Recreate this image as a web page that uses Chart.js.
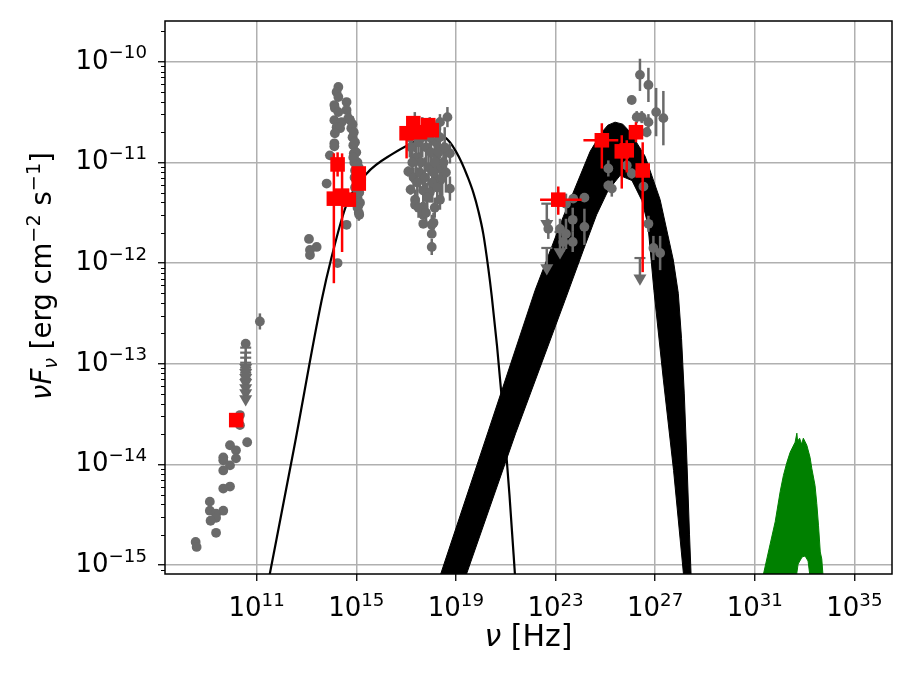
<!DOCTYPE html>
<html>
<head>
<meta charset="utf-8">
<script src="https://cdn.jsdelivr.net/npm/chart.js@4.4.0/dist/chart.umd.min.js"></script>
<style>
  html, body { margin: 0; padding: 0; background: #fff; }
  canvas { display: block; }
</style>
</head>
<body>
<canvas id="sed" width="913" height="685"></canvas>
<script>
// all values below are log10: frequency [Hz] and nuFnu [erg cm^-2 s^-1]
const xTickExp = [11, 15, 19, 23, 27, 31, 35];
const yTickExp = [-15, -14, -13, -12, -11, -10];

// grey archival points (err = symmetric error, decades)
const radioNu   = [11.13, 10.56, 10.33, 10.33, 10.62, 9.93, 10.17, 10.17, 9.66, 9.66, 9.93, 9.66, 9.93, 9.66, 9.12, 9.12, 9.66, 9.37, 9.37, 9.15, 9.37, 8.55, 8.59];
const radioFlux = [-12.58, -12.80, -13.51, -13.61, -13.78, -13.81, -13.86, -13.94, -13.93, -13.96, -14.01, -14.06, -14.22, -14.24, -14.37, -14.46, -14.46, -14.49, -14.53, -14.56, -14.68, -14.77, -14.82];
const radioErr  = [0.08, 0, 0, 0, 0, 0, 0, 0, 0, 0, 0, 0, 0, 0, 0, 0, 0, 0, 0, 0, 0, 0, 0];

const opticalNu   = [14.28, 14.21, 14.28, 14.12, 14.61, 14.14, 14.61, 14.28, 14.12, 14.41, 14.68, 14.21, 14.35, 14.14, 14.12, 14.12, 13.94, 13.81, 14.61, 13.10, 13.41, 13.14, 13.14, 14.25,
                     14.75, 14.80, 14.85, 14.88, 14.90, 14.92, 14.95, 15.00, 15.02, 15.05, 15.08, 15.10, 15.12, 15.10, 14.98, 14.93,
                     14.85, 14.90, 14.95, 15.00, 15.05, 15.10, 15.12, 15.15, 15.05, 15.12, 14.95, 14.88];
const opticalFlux = [-10.25, -10.30, -10.35, -10.43, -10.40, -10.46, -10.48, -10.50, -10.58, -10.60, -10.56, -10.65, -10.66, -10.71, -10.81, -10.84, -10.93, -11.21, -11.62, -11.76, -11.84, -11.87, -11.92, -12.00,
                     -10.58, -10.66, -10.75, -10.83, -10.91, -11.00, -11.08, -11.17, -11.26, -11.35, -11.43, -11.50, -11.24, -11.05, -11.38, -11.15,
                     -10.62, -10.70, -10.80, -10.90, -11.00, -11.10, -11.30, -11.40, -11.45, -11.52, -11.25, -10.95];
const opticalErr  = [0, 0, 0, 0, 0, 0, 0, 0, 0, 0, 0, 0, 0, 0, 0, 0, 0, 0, 0, 0, 0, 0, 0, 0,
                     0.08, 0.08, 0.08, 0.08, 0.08, 0.08, 0.08, 0.08, 0.08, 0.08, 0.08, 0.08, 0.08, 0.08, 0.08, 0.08,
                     0.08, 0.10, 0.10, 0.10, 0.10, 0.10, 0.10, 0.10, 0.08, 0.05, 0.10, 0.10];

const xrayNu   = [18.66, 18.36, 17.09, 17.18, 17.36, 17.36, 17.69, 17.69, 17.69, 17.69, 18.03, 18.03, 18.03, 18.36, 18.36, 18.36, 18.76, 18.76, 18.23,
                  17.20, 17.40, 17.50, 17.60, 17.80, 17.90, 18.00, 18.10, 18.20, 18.30, 18.50, 17.30, 17.95, 18.15,
                  17.15, 17.25, 17.35, 17.45, 17.55, 17.65, 17.75, 17.85, 17.95, 18.05, 18.15, 18.25, 18.35, 18.45, 18.55, 18.60, 17.50, 17.80, 18.10];
const xrayFlux = [-10.55, -10.60, -11.09, -11.27, -11.37, -11.42, -11.28, -11.44, -11.52, -11.61, -11.62, -11.71, -11.84, -11.06, -11.18, -11.37, -11.26, -10.91, -10.93,
                  -10.85, -10.95, -10.80, -11.00, -10.85, -11.05, -10.90, -11.10, -10.80, -10.90, -11.00, -11.15, -11.30, -11.45,
                  -10.75, -11.00, -10.70, -11.20, -11.10, -10.75, -11.15, -11.35, -10.75, -11.20, -11.00, -11.25, -10.75, -11.15, -10.85, -11.10, -11.45, -11.50, -11.60];
const xrayErr  = [0.10, 0.08, 0.05, 0.05, 0.10, 0, 0.15, 0.10, 0, 0, 0.10, 0, 0.08, 0.10, 0, 0.10, 0.12, 0.10, 0.10,
                  0.15, 0.20, 0.15, 0.20, 0.20, 0.15, 0.20, 0.20, 0.15, 0.20, 0.20, 0.10, 0.10, 0.10,
                  0.20, 0.20, 0.20, 0.15, 0.20, 0.20, 0.20, 0.15, 0.20, 0.20, 0.20, 0.15, 0.20, 0.20, 0.20, 0.20, 0.10, 0.10, 0.10];

const gammaNu   = [26.39, 26.73, 26.06, 27.04, 27.33, 26.26, 26.46, 26.73, 26.66, 25.12, 25.12, 25.26, 25.86, 26.06, 26.53, 26.73, 26.93, 27.20,
                   23.71, 24.16, 23.42, 22.71, 23.18, 23.42, 23.69, 23.69, 24.16, 23.31];
const gammaFlux = [-10.13, -10.23, -10.38, -10.50, -10.56, -10.55, -10.55, -10.60, -10.70, -11.06, -11.23, -11.26, -11.03, -11.11, -11.24, -11.61, -11.85, -11.90,
                   -11.36, -11.35, -11.41, -11.66, -11.66, -11.71, -11.57, -11.79, -11.64, -11.79];
const gammaErr  = [0.16, 0.17, 0, 0.24, 0.27, 0.06, 0.06, 0.08, 0.05, 0.08, 0.05, 0.08, 0.05, 0.05, 0, 0.08, 0.12, 0.17,
                   0, 0, 0.10, 0.10, 0.10, 0.15, 0.12, 0.10, 0.18, 0.10];

// grey upper limits (value at the cap)
const ulNu   = [10.56, 10.56, 10.56, 10.56, 10.56, 10.56, 10.56, 22.65, 22.65, 23.18, 26.39];
const ulFlux = [-12.84, -12.89, -12.94, -12.99, -13.04, -13.09, -13.15, -11.41, -11.85, -11.69, -11.95];

// red simultaneous points (errors in decades)
const redNu    = [10.18, 14.25, 14.10, 14.43, 14.70, 15.10, 15.10, 17.02, 17.29, 17.56, 17.89, 18.03, 23.11, 24.86, 25.66, 25.86, 26.23, 26.50];
const redFlux  = [-13.56, -11.02, -11.36, -11.33, -11.37, -11.11, -11.21, -10.71, -10.61, -10.70, -10.63, -10.68, -11.37, -10.78, -10.89, -10.88, -10.70, -11.08];
const redErrLo = [0, 0.12, 0.84, 0.56, 0.05, 0.05, 0.05, 0.25, 0.05, 0.05, 0.05, 0.05, 0.15, 0.28, 0.37, 0.22, 0.10, 1.01];
const redErrHi = [0, 0.12, 0.45, 0.42, 0.05, 0.05, 0.05, 0.05, 0.05, 0.05, 0.05, 0.05, 0.13, 0.17, 0.16, 0.10, 0.10, 0.28];
const redXLo   = [0, 0, 0, 0, 0, 0, 0, 0, 0, 0, 0, 0, 0.73, 0.74, 0, 0, 0, 0];
const redXHi   = [0, 0, 0, 0, 0, 0, 0, 0, 0, 0, 0, 0, 0.94, 0.66, 0, 0, 0, 0];

// synchrotron model (thin line)
const synNu   = [11.44, 12.50, 13.61, 14.00, 14.61, 15.42, 16.49, 17.29, 17.80, 18.20, 18.50, 18.76, 19.00, 19.23, 19.45, 19.70, 19.90, 20.10, 20.30, 20.44, 20.65, 20.90, 21.15, 21.40];
const synFlux = [-15.20, -13.84, -12.37, -11.95, -11.42, -11.11, -10.91, -10.80, -10.74, -10.72, -10.74, -10.80, -10.89, -11.00, -11.13, -11.30, -11.48, -11.71, -12.05, -12.33, -12.82, -13.50, -14.30, -15.20];

// inverse Compton model band: upper and lower edge
const icUpNu   = [18.24, 20.30, 22.18, 23.31, 24.39, 24.86, 25.10, 25.39, 25.70, 26.00, 26.60, 27.20, 27.73, 27.93, 28.06, 28.17, 28.28, 28.38, 28.46];
const icUpFlux = [-15.20, -13.67, -12.27, -11.54, -10.89, -10.70, -10.63, -10.60, -10.62, -10.70, -10.94, -11.37, -11.97, -12.30, -12.75, -13.30, -14.00, -14.70, -15.20];
const icLoNu   = [19.27, 21.40, 23.38, 24.12, 24.65, 25.11, 25.59, 26.07, 26.47, 26.71, 26.95, 27.33, 27.74, 28.18];
const icLoFlux = [-15.20, -13.69, -12.37, -11.87, -11.52, -11.28, -11.13, -11.18, -11.38, -11.62, -12.27, -13.16, -14.06, -15.20];

// green outline
const greenNu   = [31.25, 31.61, 31.82, 32.02, 32.15, 32.29, 32.42, 32.62, 32.69, 32.72, 32.80, 32.88, 32.95, 33.09, 33.22, 33.29, 33.42, 33.49, 33.56, 33.63, 33.69, 33.77, 33.26, 33.14, 33.02, 32.90, 32.74, 32.62];
const greenFlux = [-15.20, -14.80, -14.57, -14.27, -14.11, -13.98, -13.88, -13.78, -13.69, -13.77, -13.74, -13.80, -13.74, -13.81, -13.93, -14.04, -14.21, -14.39, -14.61, -14.87, -14.94, -15.20, -15.20, -14.96, -14.91, -14.92, -14.99, -15.20];

const P = v => Math.pow(10, v);
const pts = (xs, ys) => xs.map((x, i) => ({ x: P(x), y: P(ys[i]) }));
const FONT = '"DejaVu Sans", "Liberation Sans", sans-serif';
const GREY = '#6a6a6a';

const greyNu = [...radioNu, ...opticalNu, ...xrayNu, ...gammaNu];
const greyFlux = [...radioFlux, ...opticalFlux, ...xrayFlux, ...gammaFlux];
const greyErr = [...radioErr, ...opticalErr, ...xrayErr, ...gammaErr];

const UL_LEN = 0.2; // arrow length in decades

// error bars are drawn just before the dataset's markers
const errorBars = {
    id: 'errorBars',
    beforeDatasetDraw(chart, args) {
        const ds = chart.data.datasets[args.index];
        if (!ds.errs) return;
        const xs = chart.scales.x, ys = chart.scales.y, ctx = chart.ctx, a = chart.chartArea;
        ctx.save();
        ctx.beginPath();
        ctx.rect(a.left, a.top, a.right - a.left, a.bottom - a.top);
        ctx.clip();
        ctx.strokeStyle = ds.backgroundColor;
        ctx.lineWidth = 2.5;
        ds.data.forEach((p, i) => {
            const e = ds.errs[i];
            const px = xs.getPixelForValue(p.x), py = ys.getPixelForValue(p.y);
            ctx.beginPath();
            if (e.lo || e.hi) {
                ctx.moveTo(px, ys.getPixelForValue(p.y / P(e.lo)));
                ctx.lineTo(px, ys.getPixelForValue(p.y * P(e.hi)));
            }
            if (e.xl || e.xh) {
                ctx.moveTo(xs.getPixelForValue(p.x / P(e.xl)), py);
                ctx.lineTo(xs.getPixelForValue(p.x * P(e.xh)), py);
            }
            ctx.stroke();
        });
        ctx.restore();
    }
};

function richText(ctx, parts, x, y, size, align) {
    let w = 0;
    const fnt = p => (p.it ? 'italic ' : '') + (size * (p.s || 1)).toFixed(1) + 'px ' + FONT;
    parts.forEach(p => { ctx.font = fnt(p); p.w = ctx.measureText(p.t).width; w += p.w; });
    let cx = align === 'right' ? x - w : align === 'center' ? x - w / 2 : x;
    ctx.textAlign = 'left';
    ctx.textBaseline = 'alphabetic';
    parts.forEach(p => {
        ctx.font = fnt(p);
        ctx.fillText(p.t, cx, y + (p.dy || 0) * size);
        cx += p.w;
    });
}

const sup = t => ({ t, s: 0.7, dy: -0.4 });

// frame, minor ticks, tick labels and axis titles
const axesDecor = {
    id: 'axesDecor',
    afterDraw(chart) {
        const ctx = chart.ctx, a = chart.chartArea, xs = chart.scales.x, ys = chart.scales.y;
        ctx.save();
        ctx.strokeStyle = '#000';
        ctx.lineWidth = 1;
        for (let e = -16; e <= -9; e++) {
            for (let k = 2; k <= 9; k++) {
                const v = k * P(e);
                if (v < ys.min || v > ys.max) continue;
                const py = Math.round(ys.getPixelForValue(v)) + 0.5;
                ctx.beginPath();
                ctx.moveTo(a.left, py);
                ctx.lineTo(a.left - 4, py);
                ctx.stroke();
            }
        }
        ctx.lineWidth = 1.5;
        ctx.strokeRect(a.left, a.top, a.right - a.left, a.bottom - a.top);

        ctx.fillStyle = '#000';
        const S = 26;
        xTickExp.forEach(e => {
            const px = xs.getPixelForValue(P(e));
            richText(ctx, [{ t: '10' }, sup(String(e))], px, a.bottom + 42, S, 'center');
        });
        yTickExp.forEach(e => {
            const py = ys.getPixelForValue(P(e));
            richText(ctx, [{ t: '10' }, sup('\u2212' + Math.abs(e))], 147, py + 7, S, 'right');
        });

        richText(ctx, [{ t: '\u03bd', it: true }, { t: ' [Hz]' }], (a.left + a.right) / 2, 646, 30, 'center');
        ctx.save();
        ctx.translate(51, 276);
        ctx.rotate(-Math.PI / 2);
        richText(ctx, [
            { t: '\u03bd', it: true }, { t: 'F', it: true }, { t: '\u03bd', it: true, s: 0.7, dy: 0.22 },
            { t: ' [erg cm' }, sup('\u22122'), { t: ' s' }, sup('\u22121'), { t: ']' }
        ], 0, 0, 27.5, 'center');
        ctx.restore();
        ctx.restore();
    }
};

const bandPoly = [...pts(icUpNu, icUpFlux), ...pts(icLoNu, icLoFlux).reverse()];
const ulCaps = pts(ulNu, ulFlux);
const ulTips = pts(ulNu, ulFlux.map(f => f - UL_LEN));

const chart = new Chart(document.getElementById('sed'), {
    type: 'scatter',
    data: {
        datasets: [
            {
                label: 'simultaneous',
                data: pts(redNu, redFlux),
                errs: redNu.map((_, i) => ({ lo: redErrLo[i], hi: redErrHi[i], xl: redXLo[i], xh: redXHi[i] })),
                backgroundColor: '#ff0000',
                borderWidth: 0,
                pointStyle: 'rect',
                pointRadius: 10.3,
                order: 1
            },
            {
                label: 'upper limit tips',
                data: ulTips,
                backgroundColor: GREY,
                borderWidth: 0,
                pointStyle: 'triangle',
                rotation: 180,
                pointRadius: 7.5,
                order: 3
            },
            {
                label: 'upper limits',
                data: ulCaps,
                errs: ulNu.map(() => ({ lo: UL_LEN, hi: 0 })),
                backgroundColor: GREY,
                borderColor: GREY,
                borderWidth: 2.2,
                pointStyle: 'line',
                pointRadius: 5.5,
                order: 4
            },
            {
                label: 'archival',
                data: pts(greyNu, greyFlux),
                errs: greyErr.map(e => ({ lo: e, hi: e })),
                backgroundColor: GREY,
                borderWidth: 0,
                pointRadius: 4.9,
                order: 5
            },
            {
                label: 'green',
                data: pts(greenNu, greenFlux),
                showLine: true,
                fill: 'shape',
                backgroundColor: '#008000',
                borderColor: '#008000',
                borderWidth: 1,
                pointRadius: 0,
                tension: 0,
                clip: 0,
                order: 8
            },
            {
                label: 'synchrotron',
                data: pts(synNu, synFlux),
                showLine: true,
                borderColor: '#000',
                borderWidth: 2.2,
                pointRadius: 0,
                cubicInterpolationMode: 'monotone',
                clip: 0,
                order: 9
            },
            {
                label: 'inverse Compton',
                data: bandPoly,
                showLine: true,
                fill: 'shape',
                backgroundColor: '#000',
                borderColor: '#000',
                borderWidth: 1,
                pointRadius: 0,
                tension: 0,
                clip: 0,
                order: 10
            }
        ]
    },
    options: {
        responsive: false,
        devicePixelRatio: 1,
        animation: false,
        events: [],
        layout: { padding: { top: 21, right: 21, left: 0, bottom: 0 } },
        plugins: { legend: { display: false }, tooltip: { enabled: false } },
        scales: {
            x: {
                type: 'logarithmic',
                min: P(7.32),
                max: P(36.51),
                border: { display: false },
                grid: { color: '#b0b0b0', lineWidth: 1.5, tickColor: '#000', tickLength: 7, tickWidth: 1.3 },
                ticks: { display: false },
                afterBuildTicks: s => { s.ticks = xTickExp.map(e => ({ value: P(e) })); },
                afterFit: s => { s.height = 111; }
            },
            y: {
                type: 'logarithmic',
                min: P(-15.089),
                max: P(-9.595),
                border: { display: false },
                grid: { color: '#b0b0b0', lineWidth: 1.5, tickColor: '#000', tickLength: 7, tickWidth: 1.3 },
                ticks: { display: false },
                afterBuildTicks: s => { s.ticks = yTickExp.map(e => ({ value: P(e) })); },
                afterFit: s => { s.width = 165; }
            }
        }
    },
    plugins: [errorBars, axesDecor]
});
</script>
</body>
</html>
